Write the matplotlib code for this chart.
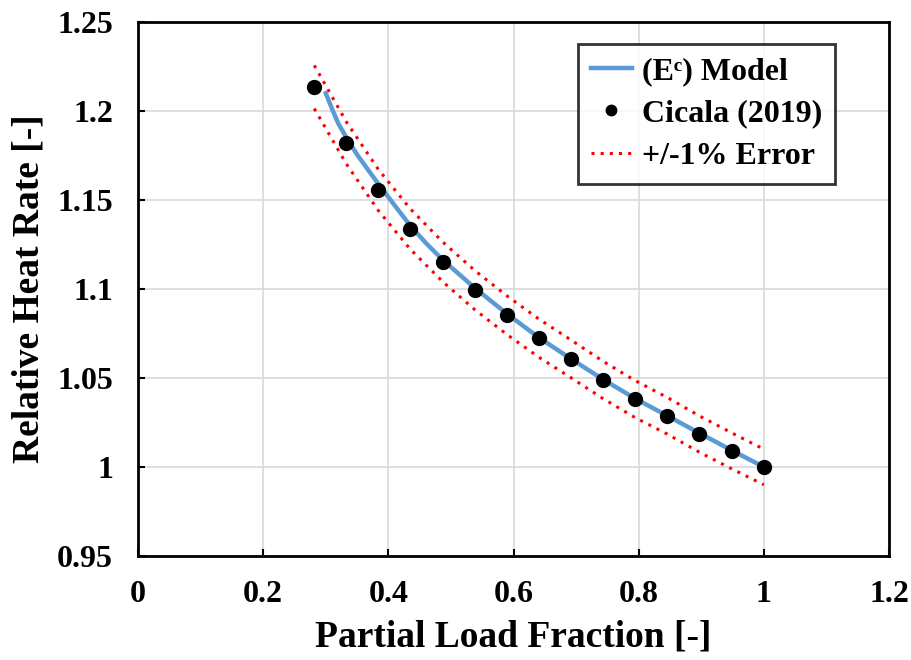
import matplotlib
matplotlib.use("Agg")
import matplotlib.pyplot as plt
import numpy as np

# Cicala (2019) data
cicala_x = [0.2816, 0.333, 0.384, 0.435, 0.487, 0.538, 0.589, 0.640, 0.692, 0.743, 0.794, 0.846, 0.897, 0.949, 1.000]
cicala_y = [1.2135, 1.182, 1.1556, 1.1337, 1.1152, 1.0994, 1.0854, 1.0725, 1.0607, 1.0489, 1.0382, 1.0287, 1.0185, 1.0090, 1.0000]

# (E^c) model curve
model_x = [0.300, 0.310, 0.320, 0.333, 0.350, 0.384, 0.410, 0.435, 0.460, 0.487, 0.538, 0.589, 0.640, 0.692, 0.743, 0.794, 0.846, 0.897, 0.949, 1.000]
model_y = [1.2100, 1.2012, 1.1930, 1.1850, 1.1755, 1.1590, 1.1470, 1.1356, 1.1258, 1.1163, 1.1006, 1.0862, 1.0728, 1.0607, 1.0492, 1.0385, 1.0287, 1.0190, 1.0093, 1.0000]

err_frac = 0.01

xticks = [0, 0.2, 0.4, 0.6, 0.8, 1.0, 1.2]
xticklabels = ["0", "0.2", "0.4", "0.6", "0.8", "1", "1.2"]
yticks = [0.95, 1.0, 1.05, 1.1, 1.15, 1.2, 1.25]
yticklabels = ["0.95", "1", "1.05", "1.1", "1.15", "1.2", "1.25"]

plt.rcParams['font.family'] = ['Liberation Serif', 'DejaVu Sans']
plt.rcParams['font.weight'] = 'bold'

fig = plt.figure(figsize=(9.11, 6.6), dpi=100)
ax = fig.add_axes([0.1515, 0.1576, 0.8244, 0.8091])

cy = np.array(cicala_y)
ax.plot(model_x, model_y, color='#5B9BD5', lw=3.2, label='(E\u1d9c) Model', zorder=3)
ax.plot(cicala_x, cicala_y, 'o', color='black', ms=10, label='Cicala (2019)', zorder=4)
ax.plot(cicala_x, cy * (1 + err_frac), ls=(0, (1, 2)), color='red', lw=2.2, label='+/-1% Error', zorder=2)
ax.plot(cicala_x, cy * (1 - err_frac), ls=(0, (1, 2)), color='red', lw=2.2, zorder=2)

ax.set_xlim(0, 1.2)
ax.set_ylim(0.95, 1.25)
ax.set_xticks(xticks)
ax.set_xticklabels(xticklabels)
ax.set_yticks(yticks)
ax.set_yticklabels(yticklabels)
ax.tick_params(direction='in', length=5, width=1.5, labelsize=23)
ax.tick_params(axis='x', pad=17)
ax.tick_params(axis='y', pad=18)
ax.grid(True, color='#D9D9D9', lw=1.2)
ax.set_axisbelow(True)
for s in ax.spines.values():
    s.set_linewidth(2)
    s.set_color('black')

ax.set_xlabel('Partial Load Fraction [-]', fontsize=27, fontweight='bold', labelpad=8)
ax.set_ylabel('Relative Heat Rate [-]', fontsize=27, fontweight='bold', labelpad=8)

leg = ax.legend(loc='upper right', fontsize=23, frameon=True, fancybox=False,
                edgecolor='black', handlelength=1.3, handletextpad=0.3,
                borderpad=0.4, labelspacing=0.4, markerscale=0.75,
                bbox_to_anchor=(0.949, 0.988))
leg.get_frame().set_linewidth(2)

fig.savefig('out.png', dpi=100)
